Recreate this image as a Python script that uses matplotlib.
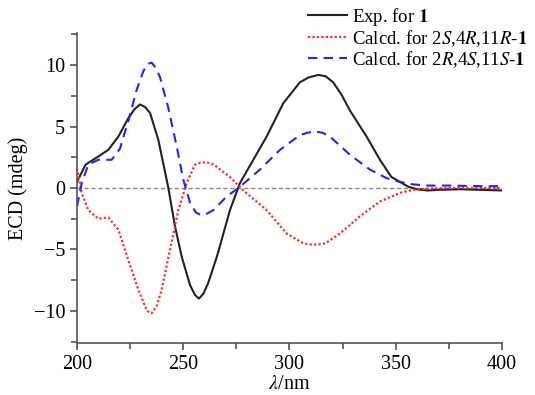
import numpy as np
from matplotlib import pyplot as plt
import matplotlib as mpl
from matplotlib.ticker import MultipleLocator

mpl.rcParams['font.family'] = 'Liberation Serif'
mpl.rcParams['mathtext.fontset'] = 'stix'
mpl.rcParams['font.size'] = 14.5

# experimental spectrum (nm, mdeg)
wl_exp = [200, 204, 208.5, 214.7, 219.5, 224.2, 227, 229.6, 232, 234.4, 238.3,
          243, 246.1, 249.3, 253.2, 255.5, 257.4, 259.5, 261.8, 266, 272, 276.7,
          283, 289.3, 297.1, 304.9, 309, 313.6, 317, 320.6, 324.5, 328.5, 336.3,
          342.6, 348, 352, 356, 360, 365, 370, 380, 390, 400]
exp = [0.5, 1.9, 2.4, 3.1, 4.2, 5.7, 6.4, 6.8, 6.6, 6.1, 3.9,
       0.0, -3.1, -5.6, -7.9, -8.7, -9.0, -8.6, -7.7, -5.5, -1.8, 0.4,
       2.3, 4.2, 6.9, 8.6, 9.0, 9.2, 9.1, 8.6, 7.6, 6.3, 4.2,
       2.3, 0.9, 0.5, 0.1, -0.1, -0.2, -0.15, -0.1, -0.15, -0.2]

# calculated for 2S,4R,11R
wl_s = [200, 202.2, 205.3, 210, 214.7, 219.5, 224.2, 228.9, 233, 235.1, 237.5,
        239.8, 243.8, 247.7, 251.6, 255.5, 258, 261, 264.5, 268.1, 272, 278.3,
        289.3, 298.7, 306.5, 310, 313.6, 317, 323.8, 333.2, 342.6, 352, 358,
        365, 375, 390, 400]
calc_s = [1.6, -0.4, -1.8, -2.5, -2.4, -3.4, -5.9, -8.3, -10.0, -10.2, -9.6,
          -8.3, -5.0, -1.8, 0.4, 1.9, 2.05, 2.1, 1.9, 1.4, 0.9, -0.2,
          -1.8, -3.7, -4.5, -4.6, -4.6, -4.5, -3.7, -2.3, -1.1, -0.4, -0.15,
          -0.05, 0.0, 0.0, 0.0]

# calculated for 2R,4S,11S
wl_r = [200, 202.2, 205.3, 210, 216.3, 220.2, 224.2, 228.1, 231.2, 233.2, 235.1,
        237, 239.1, 243, 246.9, 250, 253.2, 256, 258.5, 261, 264.2, 270.4,
        276.7, 286.1, 295.5, 304.9, 308.5, 312, 315.5, 319, 328.5, 337.9, 345.8,
        352, 358, 365, 375, 390, 400]
calc_r = [-1.5, 0.4, 1.9, 2.3, 2.3, 3.2, 5.5, 8.0, 9.5, 10.1, 10.2,
          9.8, 9.0, 6.5, 3.4, 0.7, -1.2, -2.0, -2.2, -2.1, -1.8, -0.7,
          0.1, 1.5, 3.1, 4.3, 4.5, 4.6, 4.5, 4.2, 2.7, 1.5, 0.8,
          0.5, 0.3, 0.2, 0.2, 0.15, 0.15]

fig = plt.figure(figsize=(5.35, 3.95), dpi=100)
ax = fig.add_axes([0.144, 0.132, 0.794, 0.784])

ax.plot([200, 400], [0, 0], color='#888888', lw=1.0, ls=(0, (3, 2)), zorder=1)
l1, = ax.plot(wl_exp, exp, color='#222222', lw=1.5, label=r'Exp. for $\mathbf{1}$')
l2, = ax.plot(wl_s, calc_s, color='#ff2a2a', lw=1.6, ls=(0, (1, 1)),
              label=r'Calcd. for 2$S$,4$R$,11$R$-$\mathbf{1}$')
l3, = ax.plot(wl_r, calc_r, color='#2222ff', lw=1.5, ls=(0, (4.5, 3)),
              label=r'Calcd. for 2$R$,4$S$,11$S$-$\mathbf{1}$')
for ln in (l1, l2, l3):
    ln.set_solid_joinstyle('round')
    ln.set_dash_joinstyle('round')

ax.set_xlim(200, 400)
ax.set_ylim(-12.6, 12.6)
ax.xaxis.set_minor_locator(MultipleLocator(25))
ax.yaxis.set_minor_locator(MultipleLocator(2.5))
ax.set_xticks([200, 250, 300, 350, 400])
ax.set_yticks([-10, -5, 0, 5, 10])
ax.set_yticklabels(['\u221210', '\u22125', '0', '5', '10'])

for s in ['top', 'right']:
    ax.spines[s].set_visible(False)
for s in ['left', 'bottom']:
    ax.spines[s].set_color('#555555')
    ax.spines[s].set_linewidth(1.2)
ax.tick_params(which='both', direction='out', color='#555555', width=1.2)
ax.tick_params(which='major', length=5)
ax.tick_params(which='minor', length=4)

ax.set_xlabel(r'$\lambda$/nm', labelpad=1)
ax.set_ylabel('ECD (mdeg)', labelpad=4)

fig.legend(handles=[l1, l2, l3], loc='upper left', bbox_to_anchor=(0.575, 0.985),
           frameon=False, handlelength=2.1, handletextpad=0.27, labelspacing=0.0,
           borderpad=0.0, borderaxespad=0.0, fontsize=13.5)

plt.savefig('out.png', dpi=100)
